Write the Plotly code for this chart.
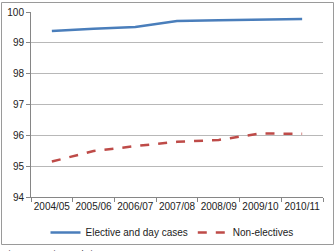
import plotly.graph_objects as go

years = ["2004/05", "2005/06", "2006/07", "2007/08", "2008/09", "2009/10", "2010/11"]
elective = [99.38, 99.46, 99.51, 99.71, 99.73, 99.75, 99.77]
non_elective = [95.15, 95.49, 95.65, 95.79, 95.85, 96.06, 96.05]

W, H = 336, 251
L, R, T, B = 31, 13, 12, 54
pw, ph = W - L - R, H - T - B

def px(x):
    return (x - L) / pw

def py(y):
    return (H - B - y) / ph

font = "Liberation Sans"

fig = go.Figure()
fig.add_trace(go.Scatter(x=years, y=elective, mode="lines", name="Elective and day cases",
                         line=dict(color="#4a7ebb", width=2.5)))
fig.add_trace(go.Scatter(x=years, y=non_elective, mode="lines", name="Non-electives",
                         line=dict(color="#be4b48", width=2.5, dash="dash")))

fig.update_layout(
    width=W, height=H,
    margin=dict(l=L, r=R, t=T, b=B, autoexpand=False),
    paper_bgcolor="white", plot_bgcolor="white",
    font=dict(family=font, size=10, color="#222222"),
    showlegend=True,
    legend=dict(orientation="h", x=px(172), xanchor="center", y=py(218), yanchor="top",
                font=dict(size=10, color="#222222"), tracegroupgap=0,
                bgcolor="rgba(0,0,0,0)"),
    xaxis=dict(type="category", range=[-0.5, 6.5], showgrid=False, showline=True,
               linecolor="#868686", linewidth=1,
               ticks="outside", ticklen=4, tickcolor="#868686", tickson="boundaries",
               tickfont=dict(size=10), tickangle=0, zeroline=False, automargin=False),
    yaxis=dict(range=[94, 100], dtick=1, showgrid=True, gridcolor="#b8b8b8", gridwidth=1,
               showline=True, linecolor="#868686", linewidth=1, ticks="outside", ticklen=4,
               tickcolor="#868686", tickfont=dict(size=10), zeroline=False, automargin=False),
    shapes=[dict(type="rect", xref="paper", yref="paper",
                 x0=px(1.5), x1=px(333.5), y0=py(244.5), y1=py(2.5),
                 line=dict(color="#9a9a9a", width=1), fillcolor="rgba(0,0,0,0)", layer="below")],
    annotations=[dict(text="Figure 3: Main trends in", xref="paper", yref="paper",
                      x=px(1), y=py(247), xanchor="left", yanchor="top", showarrow=False,
                      font=dict(size=9, color="#333333"))],
)

fig.write_html("out.html")
